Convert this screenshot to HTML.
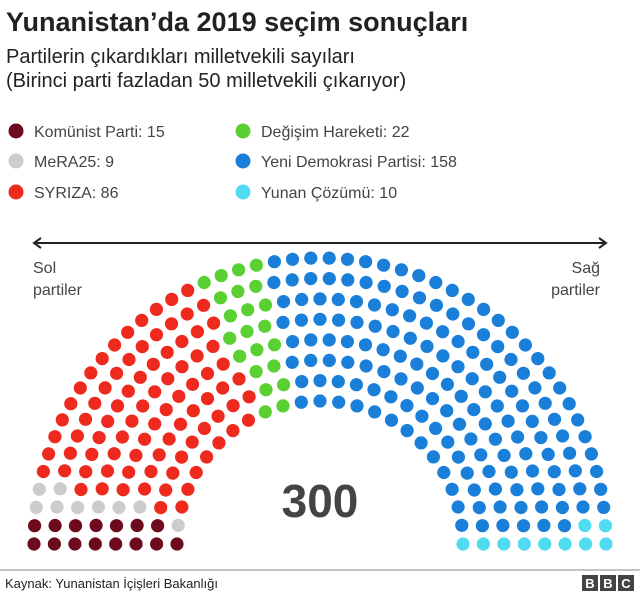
<!DOCTYPE html>
<html><head><meta charset="utf-8"><style>
body{margin:0;background:#fff;}
#c{position:relative;width:640px;height:596px;overflow:hidden;font-family:"Liberation Sans",sans-serif;color:#222;}
.t{position:absolute;white-space:nowrap;}
</style></head><body><div id="c">
<div class="t" style="left:6px;top:7px;font-size:27px;font-weight:bold;color:#222">Yunanistan’da 2019 seçim sonuçları</div>
<div class="t" style="left:6px;top:46px;font-size:20px;color:#222">Partilerin çıkardıkları milletvekili sayıları</div>
<div class="t" style="left:6px;top:70px;font-size:20px;color:#222">(Birinci parti fazladan 50 milletvekili çıkarıyor)</div>
<svg width="640" height="596" style="position:absolute;left:0;top:0" id="s">
<g font-family="Liberation Sans, sans-serif" font-size="16" fill="#444">
<circle cx="16" cy="131" r="7.5" fill="#6e0a1e"/><text x="34" y="137">Komünist Parti: 15</text>
<circle cx="16" cy="161" r="7.5" fill="#cccccc"/><text x="34" y="167">MeRA25: 9</text>
<circle cx="16" cy="192" r="7.5" fill="#ee2a1e"/><text x="34" y="198">SYRIZA: 86</text>
<circle cx="243" cy="131" r="7.5" fill="#5ad132"/><text x="261" y="137">Değişim Hareketi: 22</text>
<circle cx="243" cy="161" r="7.5" fill="#1a7fd8"/><text x="261" y="167">Yeni Demokrasi Partisi: 158</text>
<circle cx="243" cy="192" r="7.5" fill="#4fdcf2"/><text x="261" y="198">Yunan Çözümü: 10</text>
<text x="33" y="273">Sol</text><text x="33" y="295">partiler</text>
<text x="600" y="273" text-anchor="end">Sağ</text><text x="600" y="295" text-anchor="end">partiler</text>
</g>
<line x1="36" y1="243" x2="604" y2="243" stroke="#222" stroke-width="2"/>
<path d="M41,238 L34,243 L41,248 M599,238 L606,243 L599,248" stroke="#222" stroke-width="2" fill="none"/>
<text x="320" y="517" text-anchor="middle" font-family="Liberation Sans, sans-serif" font-size="46" font-weight="bold" fill="#444">300</text>
<line x1="0" y1="570" x2="640" y2="570" stroke="#888" stroke-width="1"/>
<text x="5" y="588" font-family="Liberation Sans, sans-serif" font-size="13" fill="#222">Kaynak: Yunanistan İçişleri Bakanlığı</text>
<g font-family="Liberation Sans, sans-serif" font-size="13" font-weight="bold" fill="#fff" text-anchor="middle">
<rect x="582" y="575" width="16" height="16" fill="#444"/><text x="590" y="588">B</text>
<rect x="600" y="575" width="16" height="16" fill="#444"/><text x="608" y="588">B</text>
<rect x="618" y="575" width="16" height="16" fill="#444"/><text x="626" y="588">C</text>
</g>
<g id="d"></g>
</svg>
<script>
(function(){
var cx=320,cy=544,r0=143,r1=286,rows=8,total=300;
var radii=[],sum=0;for(var i=0;i<rows;i++){var r=r0+(r1-r0)*i/(rows-1);radii.push(r);sum+=r;}
// allocate seats proportional to radius
var n=[],acc=0;for(i=0;i<rows;i++){n.push(Math.round(total*radii[i]/sum));acc+=n[i];}
var k=rows-1;while(acc<total){n[k]++;acc++;k--;if(k<0)k=rows-1;}
k=0;while(acc>total){n[k]--;acc--;k++;if(k>=rows)k=0;}
var seats=[];
for(i=0;i<rows;i++){for(var j=0;j<n[i];j++){var a=Math.PI*(1-j/(n[i]-1));seats.push({a:a,r:radii[i]});}}
seats.sort(function(p,q){return q.a-p.a||q.r-p.r;});
var parties=[[15,"#6e0a1e"],[9,"#cccccc"],[86,"#ee2a1e"],[22,"#5ad132"],[158,"#1a7fd8"],[10,"#4fdcf2"]];
var g=document.getElementById("d"),idx=0,h="";
parties.forEach(function(p){for(var m=0;m<p[0];m++){var s=seats[idx++];
h+='<circle cx="'+(cx+s.r*Math.cos(s.a)).toFixed(1)+'" cy="'+(cy-s.r*Math.sin(s.a)).toFixed(1)+'" r="6.6" fill="'+p[1]+'"/>';}});
g.innerHTML=h;
})();
</script>
</div></body></html>
